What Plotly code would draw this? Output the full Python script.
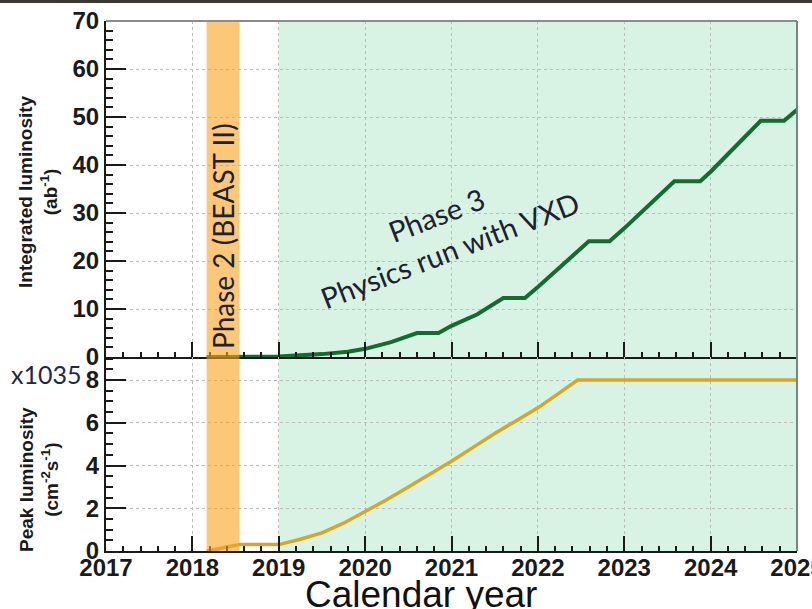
import plotly.graph_objects as go

# Integrated luminosity (ab^-1) versus calendar year
years_int = [2018.165, 2019.0, 2019.5, 2019.8, 2020.0, 2020.3, 2020.6, 2020.85,
             2021.0, 2021.3, 2021.6, 2021.85, 2022.0, 2022.3, 2022.59, 2022.83,
             2023.0, 2023.58, 2023.88, 2024.0, 2024.58, 2024.85, 2025.0]
lumi_int = [0.0, 0.1, 0.6, 1.1, 1.7, 3.1, 5.0, 5.0,
            6.5, 8.9, 12.3, 12.3, 14.6, 19.3, 24.1, 24.1,
            26.8, 36.6, 36.6, 38.6, 49.2, 49.2, 51.5]

# Peak luminosity (x10^35 cm^-2 s^-1) versus calendar year
years_peak = [2018.165, 2018.55, 2019.0, 2019.25, 2019.5, 2019.75, 2020.0, 2020.25,
              2020.5, 2020.75, 2021.0, 2021.25, 2021.5, 2021.75, 2022.0, 2022.25,
              2022.46, 2025.0]
lumi_peak = [0.0, 0.3, 0.3, 0.55, 0.85, 1.3, 1.85, 2.4,
             3.0, 3.6, 4.2, 4.85, 5.5, 6.1, 6.7, 7.4,
             8.0, 8.0]

x_ticks = [2017, 2018, 2019, 2020, 2021, 2022, 2023, 2024, 2025]
y_ticks_int = [0, 10, 20, 30, 40, 50, 60, 70]
y_ticks_peak = [0, 2, 4, 6, 8]

phase2_span = [2018.165, 2018.545]
phase3_span = [2019.0, 2025.0]

DARK = "#1a1a1a"
GRID = "#bdbdbd"
tickfont = dict(family="Liberation Sans, Arial", size=24, color=DARK, weight="bold")
label_font = dict(family="Liberation Sans, Arial", size=19, color=DARK, weight="bold")
phase_font = dict(family="Lato", size=29, color="#1c2030")

fig = go.Figure()
fig.add_trace(go.Scatter(x=years_int, y=lumi_int, mode="lines",
                         line=dict(color="#136d2e", width=4),
                         xaxis="x", yaxis="y", hoverinfo="skip"))
fig.add_trace(go.Scatter(x=years_peak, y=lumi_peak, mode="lines",
                         line=dict(color="#d4a824", width=3.5),
                         xaxis="x2", yaxis="y2", hoverinfo="skip"))

common_x = dict(
    range=[x_ticks[0], x_ticks[-1]], tickmode="array", tickvals=x_ticks,
    ticktext=[str(v) for v in x_ticks],
    ticks="inside", ticklen=15, tickwidth=2, tickcolor=DARK,
    showline=True, linecolor=DARK, linewidth=2,
    showgrid=True, gridcolor=GRID, griddash="dot", gridwidth=1, zeroline=False,
    minor=dict(dtick=0.2, tick0=2017, ticks="inside", ticklen=5, tickwidth=1.5,
               tickcolor=DARK, showgrid=False),
    tickfont=tickfont, ticklabeloverflow="allow", automargin=False,
)
common_y = dict(
    ticks="inside", ticklen=20, tickwidth=2, tickcolor=DARK,
    showline=True, linecolor=DARK, linewidth=2,
    showgrid=True, gridcolor=GRID, griddash="dot", gridwidth=1, zeroline=False,
    tickfont=tickfont, ticklabeloverflow="allow", automargin=False,
)

split = 194 / 530

fig.update_layout(
    width=812, height=609,
    margin=dict(l=106, r=15, t=21, b=58, autoexpand=False),
    paper_bgcolor="white", plot_bgcolor="white",
    showlegend=False,
    xaxis=dict(common_x, domain=[0, 1], anchor="y", showticklabels=False),
    xaxis2=dict(common_x, domain=[0, 1], anchor="y2", matches="x",
                ticklabelstandoff=-6),
    yaxis=dict(common_y, domain=[split, 1], range=[0, 70], tickmode="array",
               tickvals=y_ticks_int, anchor="x",
               minor=dict(dtick=2, tick0=0, ticks="inside", ticklen=7, tickwidth=1.5,
                          tickcolor=DARK, showgrid=False)),
    yaxis2=dict(common_y, domain=[0, split], range=[0, 9.08], tickmode="array",
                tickvals=y_ticks_peak, anchor="x2",
                minor=dict(dtick=0.5, tick0=0, ticks="inside", ticklen=7, tickwidth=1.5,
                           tickcolor=DARK, showgrid=False)),
)

shapes = [
    # Phase 3 shading behind the grid
    dict(type="rect", xref="x", yref="paper", x0=phase3_span[0], x1=phase3_span[1],
         y0=0, y1=1, fillcolor="#d8f2e3", line=dict(width=0), layer="below"),
    # Phase 2 band on top of the curves
    dict(type="rect", xref="x", yref="paper", x0=phase2_span[0], x1=phase2_span[1],
         y0=0, y1=1, fillcolor="rgba(251,161,30,0.6)", line=dict(width=0), layer="above"),
    # frame of the upper panel
    dict(type="line", xref="paper", yref="paper", x0=0, x1=1, y0=1, y1=1,
         line=dict(color="#8c8c8c", width=2), layer="above"),
    dict(type="line", xref="paper", yref="paper", x0=1, x1=1, y0=0, y1=1,
         line=dict(color="#6f8a7a", width=2), layer="above"),
    # dark strip along the top edge
    dict(type="rect", xref="paper", yref="paper", x0=-0.2, x1=1.05,
         y0=(551 - 3) / 530, y1=(551 + 2) / 530,
         fillcolor="#3b3735", line=dict(width=0), layer="above"),
]
fig.update_layout(shapes=shapes)

annotations = [
    dict(text="Phase 2 (BEAST II)", xref="x", yref="paper",
         x=(phase2_span[0] + phase2_span[1]) / 2, y=(551 - 236) / 530,
         textangle=-90, showarrow=False, font=dict(phase_font, size=28),
         xanchor="center", yanchor="middle"),
    dict(text="Phase 3<br>Physics run with VXD", xref="x", yref="y",
         x=2020.9, y=26, textangle=-21, showarrow=False, font=phase_font,
         align="center", xanchor="center", yanchor="middle"),
    dict(text="Integrated luminosity<br>(ab<sup>-1</sup>)", xref="paper", yref="paper",
         x=(38 - 106) / 691, y=(551 - 192) / 530, textangle=-90, showarrow=False,
         font=label_font, align="center", xanchor="center", yanchor="middle"),
    dict(text="Peak luminosity<br>(cm<sup>-2</sup>s<sup>-1</sup>)", xref="paper", yref="paper",
         x=(39 - 106) / 691, y=(551 - 480) / 530, textangle=-90, showarrow=False,
         font=label_font, align="center", xanchor="center", yanchor="middle"),
    dict(text="x1035", xref="paper", yref="paper",
         x=(46 - 106) / 691, y=(551 - 374) / 530, showarrow=False,
         font=dict(family="Lato", size=25, color="#1b2a4a"),
         xanchor="center", yanchor="middle"),
    dict(text="Calendar year", xref="paper", yref="paper",
         x=(421 - 106) / 691, y=(551 - 594) / 530, showarrow=False,
         font=dict(family="Liberation Sans, Arial", size=37, color="#111111"),
         xanchor="center", yanchor="middle"),
]
fig.update_layout(annotations=annotations)

fig.write_html("out.html")
